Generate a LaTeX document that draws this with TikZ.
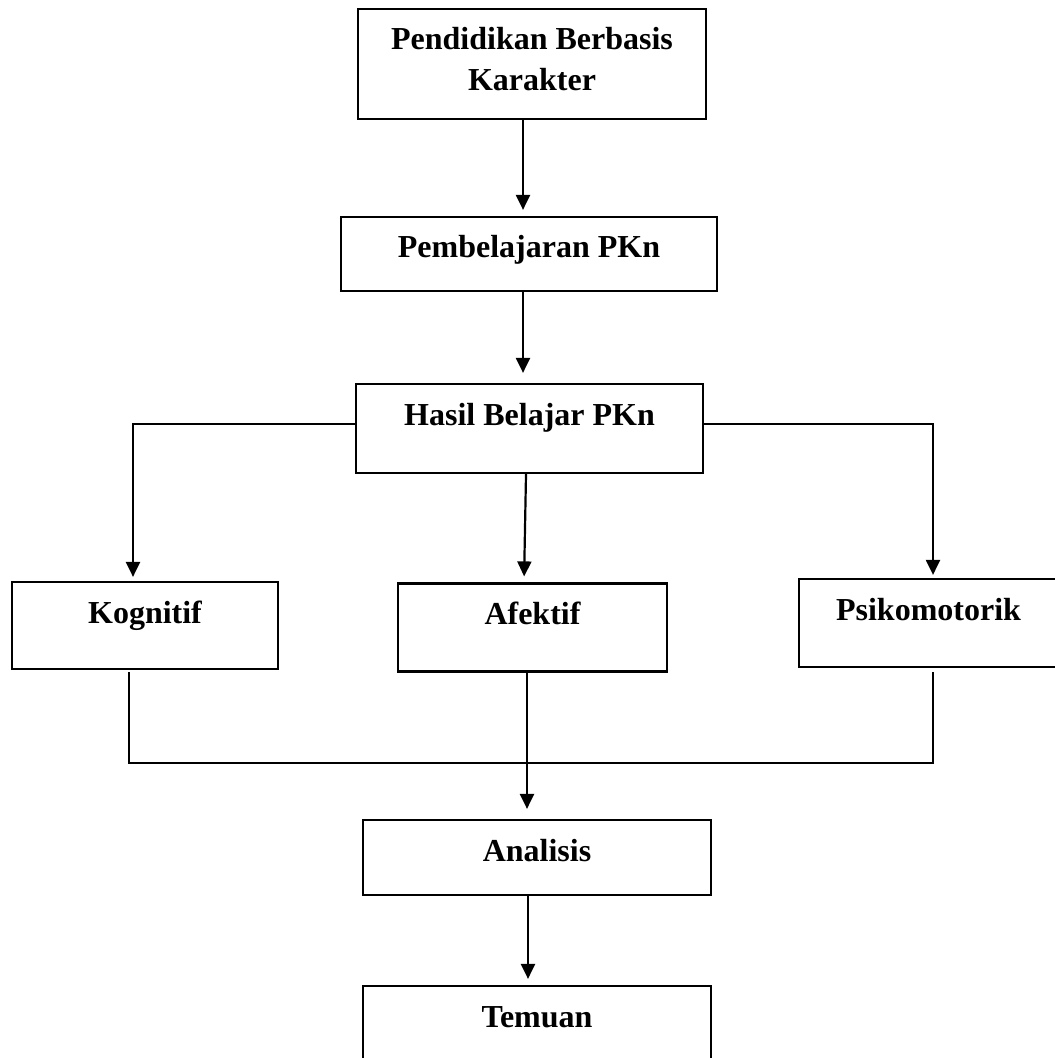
\documentclass[tikz,border=0pt]{standalone}
\usepackage{fontspec}
\setmainfont{Liberation Serif}
\usepackage{tikz}
\usetikzlibrary{positioning,arrows.meta,calc}
\tikzset{
  node-box/.style={draw=black,line width=1.1pt,inner sep=0pt,align=center,
    text height=20.5pt,font=\fontsize{16}{20.5}\selectfont\bfseries},
  arrow/.style={-{Triangle[length=7.5pt,width=7pt]},line width=1.1pt,shorten >=3pt},
  link/.style={line width=1.1pt},
}

\begin{document}
\begin{tikzpicture}[x=0.5pt,y=-0.5pt]
  \useasboundingbox (0,0) rectangle (1054,1058);
  \node[node-box,minimum width=174pt,text height=41pt,text depth=14pt] (pendidikan) at (532,64) {Pendidikan Berbasis\\Karakter};
  \node[node-box,minimum width=188pt,text depth=16.5pt] (pembelajaran) at (529,254) {Pembelajaran PKn};
  \node[node-box,minimum width=173.5pt,text depth=24pt] (hasil) at (529.5,428.5) {Hasil Belajar PKn};
  \node[node-box,minimum width=133pt,text depth=23pt] (kognitif) at (145,625.5) {Kognitif};
  \node[node-box,minimum width=134.5pt,text depth=23.5pt] (afektif) at (532.5,627.5) {Afektif};
  \node[node-box,minimum width=129.5pt,text depth=23.5pt] (psikomotorik) at (928.5,623) {Psikomotorik};
  \node[node-box,minimum width=174pt,text depth=17pt] (analisis) at (537,857.5) {Analisis};
  \node[node-box,minimum width=174pt,text depth=23.5pt] (temuan) at (537,1030) {Temuan};
  % alur utama
  \draw[arrow] ([xshift=-4.5pt]pendidikan.south) -- ([xshift=-4.5pt]pendidikan.south |- pembelajaran.north);
  \draw[arrow,shorten >=5pt] ([xshift=-3pt]pembelajaran.south) -- ([xshift=-3pt]pembelajaran.south |- hasil.north);
  \draw[arrow] ([xshift=-1.75pt]hasil.south) -- ([xshift=-4.25pt]afektif.north);
  \draw[arrow,shorten >=2pt] ([yshift=2.25pt]hasil.west) -| ([xshift=-6pt]kognitif.north);
  \draw[arrow,shorten >=1.5pt] ([yshift=2.25pt]hasil.east) -| ([xshift=2.25pt]psikomotorik.north);
  % gabungan ke analisis
  \draw[link] ([xshift=-8pt,yshift=-1pt]kognitif.south) -- ++(0pt,-45.5pt) -| ([xshift=2.25pt,yshift=-2pt]psikomotorik.south);
  \draw[arrow,shorten >=5pt] ([xshift=-2.75pt]afektif.south) -- ([xshift=-2.75pt]afektif.south |- analisis.north);
  \draw[arrow] ([xshift=-4.5pt]analisis.south) -- ([xshift=-4.5pt]analisis.south |- temuan.north);
\end{tikzpicture}
\end{document}
